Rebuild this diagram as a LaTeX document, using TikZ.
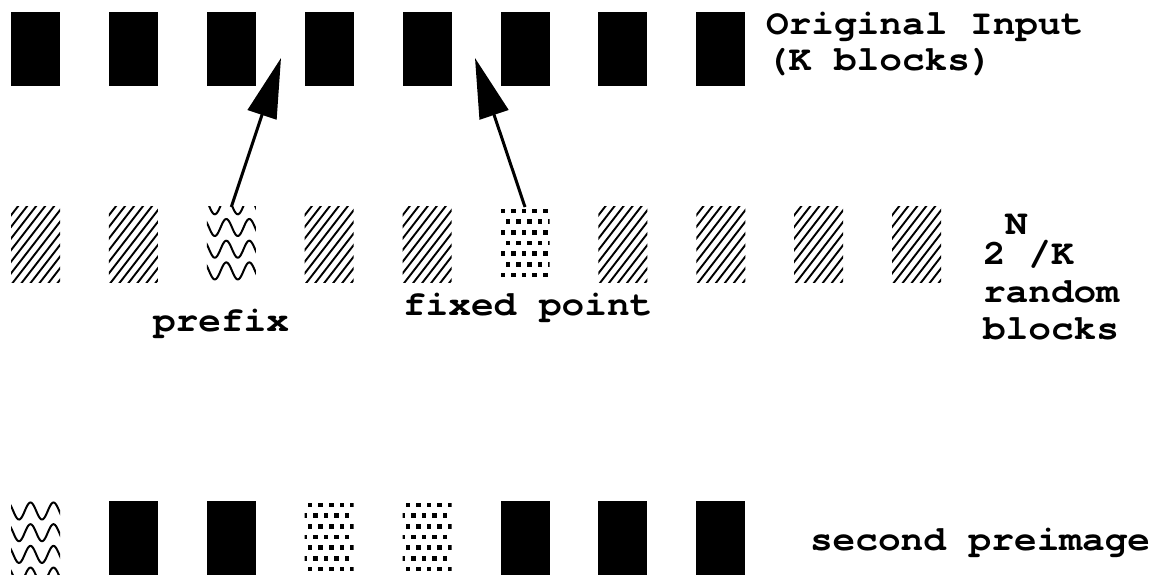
\documentclass[tikz,border=0pt]{standalone}
\usepackage{fontspec}
\newfontfamily\cour[FakeStretch=1.08,Ligatures=NoCommon]{texgyrecursor-bold.otf}
\usetikzlibrary{arrows.meta}
\tikzset{
  blk/.style={minimum width=49pt, minimum height=74pt, inner sep=0pt, outer sep=0pt, anchor=north west},
  solidblk/.style={blk, fill=black},
  patblk/.style={blk},
  hatchline/.style={line width=1.9pt},
  waveline/.style={line width=2pt},
  lbl/.style={font=\cour\fontsize{35}{37}\selectfont, inner sep=0pt, outer sep=0pt, anchor=base west},
  arr/.style={line width=3pt, -{Triangle[length=60pt,width=30pt]}},
}
% pattern fillers, drawn inside a named block
\newcommand\hatchin[1]{%
  \begin{scope}
    \clip (#1.north west) rectangle ([yshift=-1pt]#1.south east);
    \begin{scope}[shift={(#1.north west)}]
      \foreach \k in {-72,-63,...,60} \draw[hatchline] (\k,78) -- ++(62,-80);
    \end{scope}
  \end{scope}}
\newcommand\dotsin[2]{%
  \begin{scope}
    \clip (#1.north west) rectangle (#1.south east);
    \begin{scope}[shift={(#1.north west)}]
      \foreach \r in {0,...,6}{
        \pgfmathsetmacro\off{mod(\r,2)*5.3+#2}
        \foreach \c in {-1,...,5} \fill ({\off+\c*10.6}, {1.5+\r*10.7}) rectangle ++(4.6,4.6);
      }
    \end{scope}
  \end{scope}}
\newcommand\wavesin[2]{%
  \begin{scope}
    \clip (#1.north west) rectangle (#1.south east);
    \begin{scope}[shift={(#1.north west)}]
      \foreach \r in {-1,...,3}
        \draw[waveline] plot[domain=-3:52, samples=70, smooth]
          (\x, {#2+\r*21.7 + 8.5*cos(360*(\x-8)/23)});
    \end{scope}
  \end{scope}}
\begin{document}
\begin{tikzpicture}[x=1pt,y=-1pt]
\useasboundingbox (0,0) rectangle (1160,575);
% top row: original input
\foreach \i in {0,...,7}
  \node[solidblk] (t\i) at ({11+97.9*\i},12) {};
% middle row: random blocks
\foreach \i in {0,...,9}
  \node[patblk] (m\i) at ({11+97.9*\i},207) {};
\foreach \i in {0,1,3,4,6,7,8,9} {\hatchin{m\i}}
\wavesin{m2}{20.5}
\dotsin{m5}{0}
% bottom row: second preimage
\node[patblk] (b0) at (11,501) {};
\node[solidblk] (b1) at ({11+97.9*1},501) {};
\node[solidblk] (b2) at ({11+97.9*2},501) {};
\node[patblk] (b3) at ({11+97.9*3},501) {};
\node[patblk] (b4) at ({11+97.9*4},501) {};
\node[solidblk] (b5) at ({11+97.9*5},501) {};
\node[solidblk] (b6) at ({11+97.9*6},501) {};
\node[solidblk] (b7) at ({11+97.9*7},501) {};
\wavesin{b0}{10}
\dotsin{b3}{3}
\dotsin{b4}{3}
% arrows
\coordinate (p1) at (281,58);
\coordinate (p2) at (475,58);
\draw[arr] (m2.north) -- (p1);
\draw[arr] (m5.north) -- (p2);
% labels
\node[lbl] (orig1) at (766,35) {Original Input};
\node[lbl] (orig2) at (766,71) {(K blocks)};
\node[lbl] (rN) at (1005,234) {N};
\node[lbl] (r1) at (983,264) {2~/K};
\node[lbl] (r2) at (983,302) {random};
\node[lbl] (r3) at (983,339) {blocks};
\node[lbl] (pre) at (153,331) {prefix};
\node[lbl] (fix) at (403,315) {fixed point};
\node[lbl] (sec) at (810,550) {second preimage};
\end{tikzpicture}
\end{document}
